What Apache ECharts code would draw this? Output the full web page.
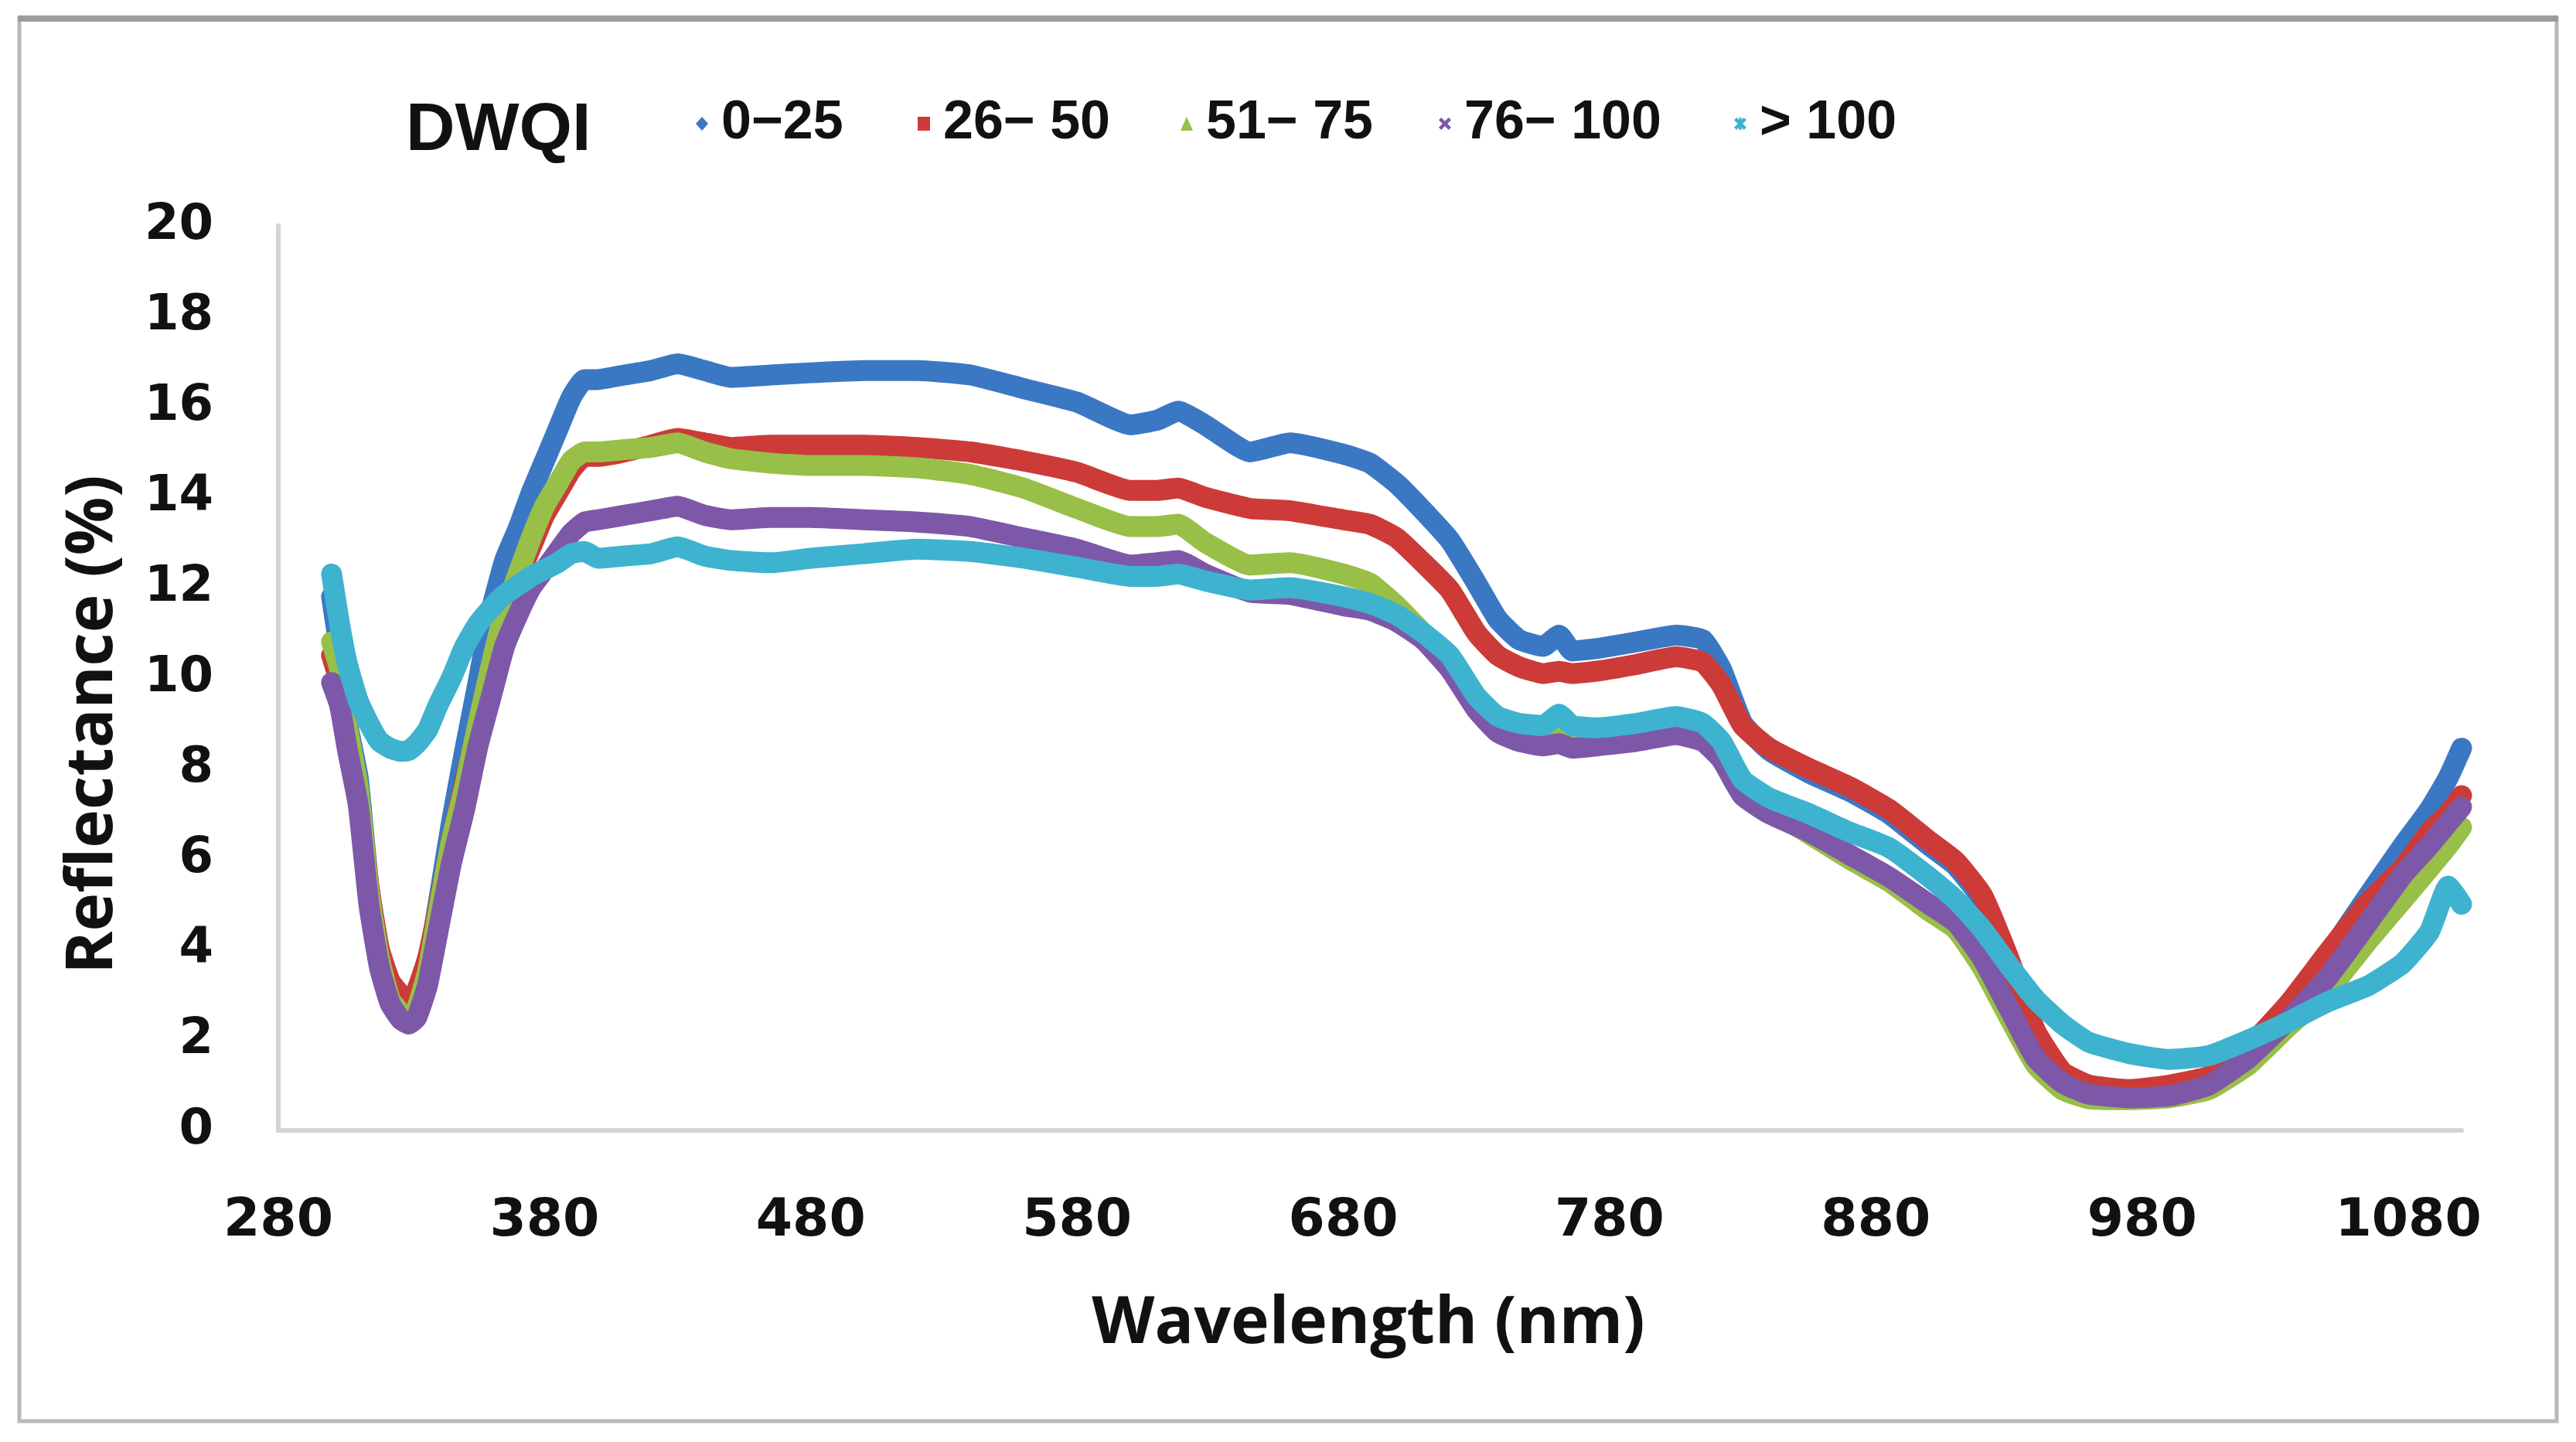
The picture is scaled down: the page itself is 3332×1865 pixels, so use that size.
<!DOCTYPE html>
<html>
<head>
<meta charset="utf-8">
<script src="https://cdn.jsdelivr.net/npm/echarts@6/dist/echarts.min.js"></script>
<style>
html,body{margin:0;padding:0;background:#fff;}
#chart{width:3332px;height:1865px;}
</style>
</head>
<body>
<div id="chart"></div>
<script>
// Wavelength (nm)
const wavelength = [
  300, 303, 306, 310, 314, 318, 322, 326, 329, 332,
  336, 340, 345, 350, 355, 360, 365, 370, 375, 380,
  385, 390, 395, 400, 410, 420, 430, 440, 450, 465,
  480, 500, 520, 540, 560, 580, 600, 610, 618, 628,
  645, 660, 680, 690, 700, 710, 720, 730, 738, 746,
  755, 761, 766, 775, 790, 805, 815, 822, 830, 840,
  855, 870, 885, 900, 910, 920, 930, 940, 950, 960,
  975, 990, 1005, 1020, 1035, 1050, 1065, 1078, 1088, 1095, 1100
];
// Reflectance (%) per DWQI class
const dwqi_0_25 = [
  11.8, 10.6, 9.0, 7.8, 5.4, 3.9, 3.0, 2.6, 2.5, 2.7,
  3.6, 5.0, 6.8, 8.4, 9.9, 11.5, 12.6, 13.3, 14.1, 14.8,
  15.5, 16.2, 16.6, 16.6, 16.7, 16.8, 16.95, 16.8, 16.65, 16.7,
  16.75, 16.8, 16.8, 16.7, 16.4, 16.1, 15.6, 15.7, 15.9, 15.6,
  15.0, 15.2, 14.95, 14.75, 14.3, 13.7, 13.05, 12.1, 11.3, 10.85,
  10.7, 10.95, 10.6, 10.65, 10.8, 10.95, 10.85, 10.2, 9.0, 8.4,
  7.9, 7.5, 7.0, 6.3, 5.85, 5.1, 3.7, 2.1, 1.25, 1.0,
  0.9, 0.95, 1.15, 1.75, 2.75, 3.9, 5.2, 6.3, 7.1, 7.8, 8.45
];
const dwqi_26_50 = [
  10.5, 9.9, 8.7, 7.5, 5.4, 4.0, 3.3, 3.0, 2.9, 3.1,
  3.8, 4.9, 6.4, 7.7, 8.9, 10.2, 11.4, 12.2, 12.9, 13.6,
  14.1, 14.6, 14.9, 14.9, 15.0, 15.15, 15.3, 15.2, 15.1, 15.15,
  15.15, 15.15, 15.1, 15.0, 14.8, 14.55, 14.15, 14.15, 14.2, 14.0,
  13.75, 13.7, 13.5, 13.4, 13.1, 12.55, 11.95, 11.0, 10.5, 10.25,
  10.1, 10.15, 10.1, 10.15, 10.3, 10.47, 10.35, 9.85, 8.95, 8.45,
  8.0, 7.6, 7.1, 6.4, 5.95, 5.2, 3.8, 2.2, 1.3, 1.0,
  0.9, 1.0, 1.2, 1.85, 2.8, 3.95, 5.05, 5.8, 6.6, 7.0, 7.4
];
const dwqi_51_75 = [
  10.8, 10.2, 8.9, 7.6, 5.3, 3.8, 2.9, 2.6, 2.5, 2.7,
  3.5, 4.8, 6.4, 7.6, 9.0, 10.3, 11.5, 12.3, 13.1, 13.8,
  14.3, 14.8, 15.0, 15.0, 15.05, 15.1, 15.2, 15.0, 14.85, 14.75,
  14.7, 14.7, 14.65, 14.5, 14.2, 13.75, 13.35, 13.35, 13.4, 13.0,
  12.5, 12.55, 12.3, 12.1, 11.6, 11.0, 10.4, 9.5, 9.0, 8.85,
  8.8, 9.0, 8.8, 8.75, 8.85, 9.0, 8.85, 8.45, 7.6, 7.1,
  6.55, 6.0, 5.5, 4.85, 4.45, 3.6, 2.5, 1.45, 0.9, 0.7,
  0.68, 0.72, 0.9, 1.45, 2.3, 3.1, 4.2, 5.1, 5.8, 6.3, 6.7
];
const dwqi_76_100 = [
  9.9, 9.4, 8.4, 7.2, 5.0, 3.6, 2.8, 2.45, 2.35, 2.5,
  3.2, 4.4, 5.9, 7.1, 8.5, 9.6, 10.7, 11.4, 12.0, 12.4,
  12.8, 13.2, 13.45, 13.5, 13.6, 13.7, 13.8, 13.6, 13.5, 13.55,
  13.55, 13.5, 13.45, 13.35, 13.1, 12.85, 12.5, 12.55, 12.6, 12.3,
  11.9, 11.85, 11.6, 11.5, 11.25, 10.85, 10.2, 9.3, 8.8, 8.6,
  8.5, 8.55, 8.45, 8.5, 8.6, 8.75, 8.6, 8.2, 7.4, 7.0,
  6.6, 6.1, 5.6, 5.0, 4.6, 3.8, 2.7, 1.6, 1.05, 0.8,
  0.72, 0.76, 1.0, 1.6, 2.45, 3.4, 4.6, 5.65, 6.3, 6.8, 7.15
];
const dwqi_over_100 = [
  12.3, 11.2, 10.3, 9.5, 9.0, 8.6, 8.45, 8.38, 8.4, 8.55,
  8.85, 9.4, 10.0, 10.7, 11.2, 11.55, 11.85, 12.05, 12.25, 12.4,
  12.55, 12.75, 12.8, 12.65, 12.7, 12.75, 12.9, 12.7, 12.6, 12.55,
  12.65, 12.75, 12.85, 12.8, 12.65, 12.45, 12.25, 12.25, 12.3, 12.15,
  11.95, 12.0, 11.8, 11.65, 11.4, 11.0, 10.5, 9.6, 9.15, 9.0,
  8.95, 9.2, 8.95, 8.9, 9.0, 9.15, 9.0, 8.6, 7.75, 7.35,
  7.0, 6.6, 6.25, 5.6, 5.1, 4.45, 3.65, 2.9, 2.35, 1.95,
  1.7, 1.57, 1.65, 2.0, 2.4, 2.85, 3.2, 3.7, 4.4, 5.4, 5.0
];
const seriesNames = ['0\u221225', '26\u2212 50', '51\u2212 75', '76\u2212 100', '> 100'];
const seriesValues = [dwqi_0_25, dwqi_26_50, dwqi_51_75, dwqi_76_100, dwqi_over_100];
const yTicks = [0, 2, 4, 6, 8, 10, 12, 14, 16, 18, 20];
const xTicks = [280, 380, 480, 580, 680, 780, 880, 980, 1080];

const colors = ['#3B78C4', '#CC3B37', '#98BF48', '#7E58A8', '#3DB3CF'];
const icons = [
  'diamond',
  'rect',
  'triangle',
  'path://M0,2L2,0L5,3L8,0L10,2L7,5L10,8L8,10L5,7L2,10L0,8L3,5Z',
  'path://M0,2L2,0L5,3L8,0L10,2L7,5L10,8L8,10L5,7L2,10L0,8L3,5Z M4,0L6,0L6,10L4,10Z'
];
const legendLeft = [895, 1182, 1522, 1856, 2238];

const chart = echarts.init(document.getElementById('chart'), null, {renderer: 'canvas', devicePixelRatio: 1});

const legends = seriesNames.map((n, i) => ({
  left: legendLeft[i],
  top: 120,
  orient: 'horizontal',
  itemWidth: 16,
  itemHeight: 18,
  selectedMode: false,
  data: [{name: n, icon: icons[i]}],
  textStyle: {
    fontFamily: 'Liberation Sans',
    fontWeight: 'bold',
    fontSize: 70,
    color: '#111',
    padding: [0, 0, 0, 12]
  }
}));

const series = seriesNames.map((n, i) => ({
  name: n,
  type: 'line',
  data: wavelength.map((w, k) => [w, seriesValues[i][k]]),
  showSymbol: false,
  symbol: 'none',
  smooth: 0.15,
  color: colors[i],
  lineStyle: {width: 27, color: colors[i], cap: 'round', join: 'round'},
  emphasis: {disabled: true},
  z: 2 + i
}));

chart.setOption({
  animation: false,
  backgroundColor: '#ffffff',
  legend: legends,
  grid: {left: 360, right: 148, top: 292, bottom: 403, containLabel: false},
  xAxis: {
    type: 'value',
    min: 280,
    max: 1100,
    interval: 100,
    splitLine: {show: false},
    axisTick: {show: false},
    axisLine: {show: true, lineStyle: {color: '#D4D4D4', width: 6}},
    axisLabel: {
      margin: 84,
      fontFamily: 'DejaVu Sans',
      fontWeight: 'bold',
      fontSize: 68,
      color: '#111',
      formatter: v => (xTicks.indexOf(v) >= 0 ? String(v) : '')
    }
  },
  yAxis: {
    type: 'value',
    min: 0,
    max: 20,
    interval: 2,
    splitLine: {show: false},
    axisTick: {show: false},
    axisLine: {show: true, lineStyle: {color: '#D4D4D4', width: 6}},
    axisLabel: {
      margin: 84,
      fontFamily: 'DejaVu Sans',
      fontWeight: 'bold',
      fontSize: 64,
      color: '#111',
      formatter: v => (yTicks.indexOf(v) >= 0 ? String(v) : '')
    }
  },
  graphic: [
    {type: 'rect', silent: true, shape: {x: 25, y: 24, width: 3282, height: 1814},
     style: {fill: 'none', stroke: '#B8B8B8', lineWidth: 5}},
    {type: 'line', silent: true, shape: {x1: 23, y1: 24, x2: 3309, y2: 24},
     style: {stroke: '#9C9C9C', lineWidth: 8}},
    {type: 'text', silent: true, x: 525, y: 170,
     style: {text: 'DWQI', font: 'bold 88px "Liberation Sans"', fill: '#111', textAlign: 'left', textVerticalAlign: 'middle'}},
    {type: 'text', silent: true, x: 1770, y: 1713,
     style: {text: 'Wavelength (nm)', font: 'bold 84px "Open Sans"', fill: '#111', textAlign: 'center', textVerticalAlign: 'middle'}},
    {type: 'text', silent: true, x: 121, y: 937, rotation: Math.PI / 2,
     style: {text: 'Reflectance (%)', font: 'bold 84px "Open Sans"', fill: '#111', textAlign: 'center', textVerticalAlign: 'middle'}}
  ],
  series: series
});
</script>
</body>
</html>
